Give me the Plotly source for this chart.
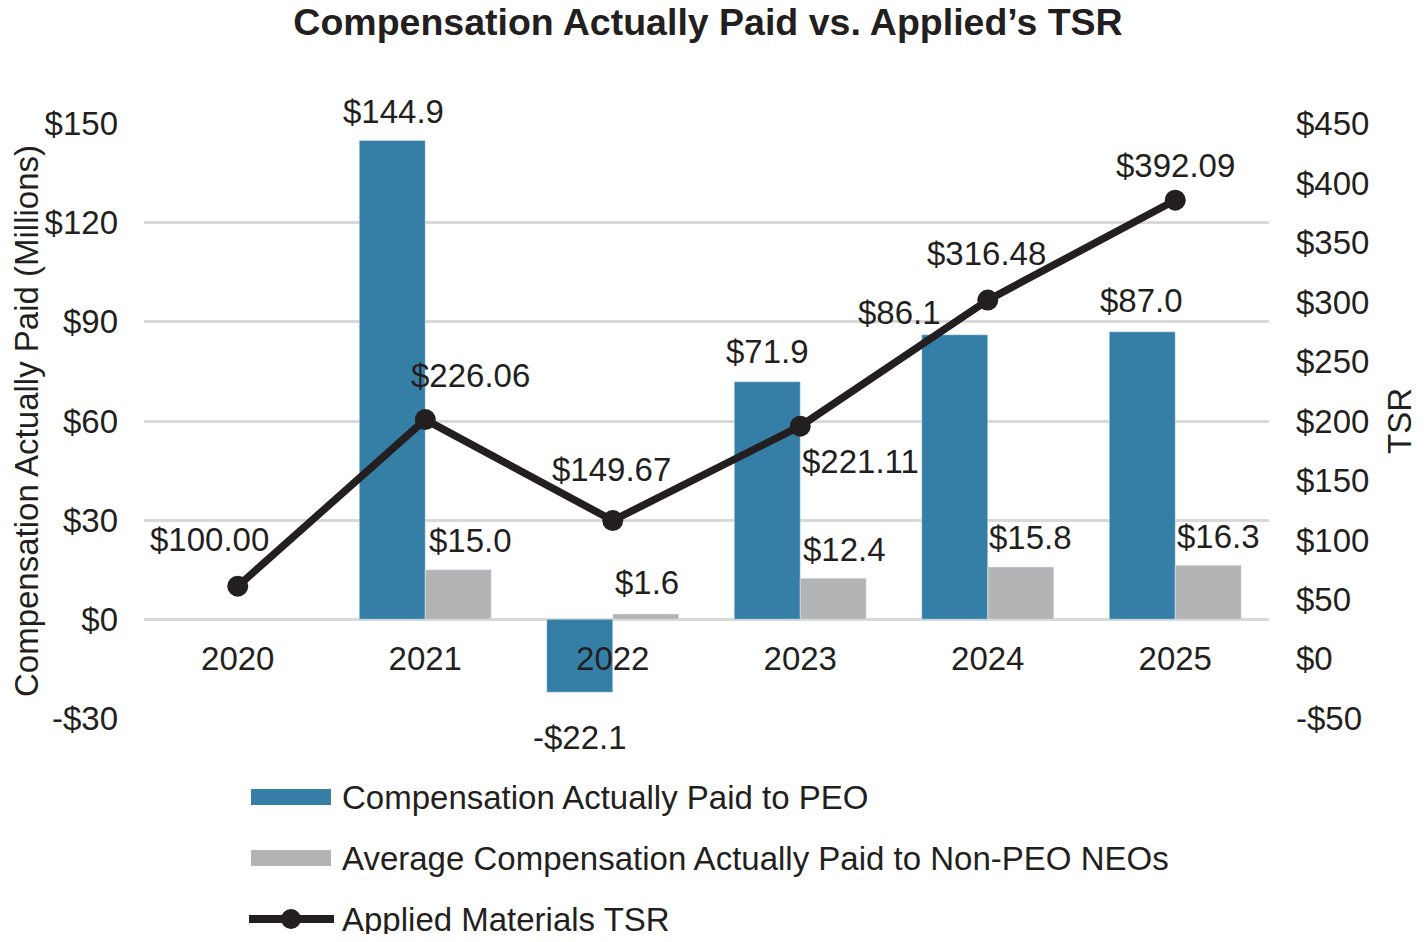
import plotly.graph_objects as go

# ---------------- data ----------------
years = ["2020", "2021", "2022", "2023", "2024", "2025"]
cap_peo = [None, 144.9, -22.1, 71.9, 86.1, 87.0]
cap_non_peo = [None, 15.0, 1.6, 12.4, 15.8, 16.3]
tsr = [100.00, 226.06, 149.67, 221.11, 316.48, 392.09]

left_ticks = [-30, 0, 30, 60, 90, 120, 150]
right_ticks = [-50, 0, 50, 100, 150, 200, 250, 300, 350, 400, 450]

title_text = "Compensation Actually Paid vs. Applied\u2019s TSR"
left_title = "Compensation Actually Paid (Millions)"
right_title = "TSR"
name_peo = "Compensation Actually Paid to PEO"
name_non = "Average Compensation Actually Paid to Non-PEO NEOs"
name_tsr = "Applied Materials TSR"

# ---------------- styles ----------------
BLUE = "#357FA6"
GRAY = "#B3B4B6"
BLACK = "#231F20"
GRID = "#D9D9D9"
FONT = "Liberation Sans, Arial, sans-serif"
FS = 33

PAGE_W, PAGE_H = 1426, 942
OFF = 8  # default page body margin
W, H = PAGE_W - 2 * OFF, PAGE_H - 2 * OFF
# plot area in page pixels
L, R, T, B = 144, 1269, 123, 719
EPS = 0.2  # tiny range padding so edge gridlines are drawn


def px_x(p):
    return (p - L) / (R - L)


def px_y(p):
    return (B - p) / (B - T)


def money(v, dec=0):
    s = f"{abs(v):.{dec}f}"
    return ("-$" if v < 0 else "$") + s


# label offsets (pixels) -- styling only
peo_off = [None, (-32, 29), (-33, -45), (-33, 30), (-88, 22), (-34, 31)]
non_off = [None, (45, 29), (34, 31), (44, 29), (43, 30), (43, 29)]
tsr_off = [(-28, 47), (45, 44), (-1, 51), (60, -35), (-1, 47), (0, 35)]

fig = go.Figure()
fig.add_trace(go.Bar(x=years, y=cap_peo, name=name_peo, marker_color=BLUE,
                     showlegend=False, yaxis="y", hoverinfo="skip"))
fig.add_trace(go.Bar(x=years, y=cap_non_peo, name=name_non, marker_color=GRAY,
                     showlegend=False, yaxis="y", hoverinfo="skip"))
# invisible helper so the right-hand TSR axis is drawn
fig.add_trace(go.Scatter(x=[years[0]] * len(right_ticks), y=right_ticks, mode="markers",
                         marker=dict(opacity=0), showlegend=False, hoverinfo="skip",
                         yaxis="y2"))
fig.add_trace(go.Scatter(x=years, y=tsr, name=name_tsr, mode="lines+markers",
                         line=dict(color=BLACK, width=7.5),
                         marker=dict(color=BLACK, size=21),
                         showlegend=False, yaxis="y3", cliponaxis=False))

annotations = []
for i, yr in enumerate(years):
    v = cap_peo[i]
    if v is not None:
        dx, dy = peo_off[i]
        annotations.append(dict(x=i, y=v, xref="x", yref="y", text=money(v, 1),
                                showarrow=False, xshift=dx, yshift=dy,
                                xanchor="center", yanchor="middle",
                                font=dict(size=FS, color=BLACK, family=FONT)))
    v = cap_non_peo[i]
    if v is not None:
        dx, dy = non_off[i]
        annotations.append(dict(x=i, y=v, xref="x", yref="y", text=money(v, 1),
                                showarrow=False, xshift=dx, yshift=dy,
                                xanchor="center", yanchor="middle",
                                font=dict(size=FS, color=BLACK, family=FONT)))
    v = tsr[i]
    dx, dy = tsr_off[i]
    annotations.append(dict(x=i, y=v, xref="x", yref="y3", text=money(v, 2),
                            showarrow=False, xshift=dx, yshift=dy,
                            xanchor="center", yanchor="middle",
                            font=dict(size=FS, color=BLACK, family=FONT)))

# custom legend
shapes = []
legend_items = [(name_peo, "bar", BLUE, 797), (name_non, "bar", GRAY, 858),
                (name_tsr, "line", BLACK, 919)]
for name, kind, col, yc in legend_items:
    if kind == "bar":
        shapes.append(dict(type="rect", xref="paper", yref="paper",
                           x0=px_x(251), x1=px_x(331), y0=px_y(yc + 8), y1=px_y(yc - 8),
                           fillcolor=col, line=dict(width=0)))
    else:
        shapes.append(dict(type="line", xref="paper", yref="paper",
                           x0=px_x(249), x1=px_x(334), y0=px_y(yc), y1=px_y(yc),
                           line=dict(color=col, width=8)))
        shapes.append(dict(type="circle", xref="paper", yref="paper",
                           x0=px_x(281), x1=px_x(301), y0=px_y(yc + 10), y1=px_y(yc - 10),
                           fillcolor=col, line=dict(width=0)))
    annotations.append(dict(x=px_x(340), y=px_y(yc), xref="paper", yref="paper",
                            text=name, showarrow=False, xanchor="left", yanchor="middle",
                            font=dict(size=FS, color=BLACK, family=FONT)))

lr = [left_ticks[0], left_ticks[-1]]
rr = [right_ticks[0], right_ticks[-1]]
k2 = (rr[1] - rr[0]) / (lr[1] - lr[0])
k3 = (rr[1] - 0) / (lr[1] - lr[0])

fig.update_layout(
    width=W, height=H,
    margin=dict(l=L - OFF, r=PAGE_W - R - OFF, t=T - OFF, b=PAGE_H - B - OFF, pad=0,
                autoexpand=False),
    paper_bgcolor="white", plot_bgcolor="white",
    font=dict(family=FONT, size=FS, color=BLACK),
    title=dict(text="<b>" + title_text + "</b>", x=(708 - OFF) / W, xref="container",
               xanchor="center", y=1 - (22 - OFF) / H, yref="container", yanchor="middle",
               font=dict(size=37.5, color=BLACK, family=FONT)),
    barmode="group", bargap=0.296, bargroupgap=0,
    showlegend=False,
    hovermode=False,
    xaxis=dict(type="category", range=[-0.5, len(years) - 0.5], autorange=False,
               automargin=False,
               showline=False, showgrid=False, zeroline=False,
               ticks="", ticklabelstandoff=-83,
               tickfont=dict(size=FS, color=BLACK)),
    yaxis=dict(range=[lr[0] - EPS, lr[1] + EPS], autorange=False, automargin=False,
               tickvals=left_ticks, ticktext=[money(v) for v in left_ticks],
               showgrid=True, gridcolor=GRID, gridwidth=2.5, zeroline=False,
               showline=False, ticks="", ticklabelstandoff=25,
               title=dict(text=left_title, standoff=19, font=dict(size=FS, color=BLACK)),
               tickfont=dict(size=FS, color=BLACK)),
    yaxis2=dict(range=[rr[0] - EPS * k2, rr[1] + EPS * k2], autorange=False,
                automargin=False, overlaying="y", side="right",
                tickvals=right_ticks, ticktext=[money(v) for v in right_ticks],
                showgrid=False, zeroline=False, showline=False, ticks="",
                ticklabelstandoff=26,
                title=dict(text=right_title, standoff=28, font=dict(size=FS, color=BLACK)),
                tickfont=dict(size=FS, color=BLACK)),
    yaxis3=dict(range=[0 - EPS * k3, rr[1] + EPS * k3], autorange=False,
                automargin=False, overlaying="y", visible=False),
    annotations=annotations,
    shapes=shapes,
)

fig.write_html("out.html")
